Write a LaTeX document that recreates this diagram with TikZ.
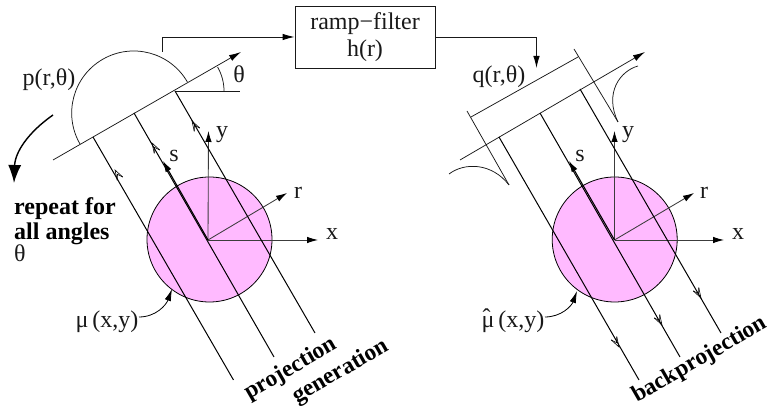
\documentclass[tikz,border=0pt]{standalone}
\usepackage{fontspec}
\setmainfont{Liberation Serif}
\usetikzlibrary{arrows.meta}
\definecolor{disc}{RGB}{255,186,255}
\definecolor{ink}{RGB}{25,25,25}
\tikzset{
  thin line/.style={draw=ink,line width=0.75pt},
  ray/.style={draw=black,line width=1pt},
  axis/.style={draw=ink!85,line width=0.85pt,-{Latex[length=11pt,width=6.5pt,black]}},
  solid axis/.style={draw=black,line width=1.1pt,-{Latex[length=11pt,width=6.5pt]}},
  flow/.style={draw=ink,line width=0.85pt,-{Latex[length=12pt,width=6.5pt,black]}},
  callout/.style={draw=black,line width=0.8pt,-{Latex[length=12pt,width=6.5pt]}},
  openhead/.style={draw=black,line width=0.6pt},
  lab/.style={font=\fontsize{24}{26}\selectfont,inner sep=0pt,text=ink},
  bold lab/.style={font=\fontsize{24}{25}\selectfont\bfseries,inner sep=0pt,text=black},
  rot lab/.style={font=\fontsize{23.5}{25}\selectfont\bfseries,inner sep=0pt,text=black,rotate=30},
  diskshape/.style={circle,draw=black,fill=disc,line width=0.8pt,minimum size=125pt,inner sep=0pt},
  filterbox/.style={draw=ink,line width=0.85pt,minimum width=140pt,minimum height=62pt,inner sep=0pt,align=center,
    font=\fontsize{24}{27}\selectfont,text=ink},
  ray mark/.pic={\draw[openhead] (-3.2,-10) -- (0,0) -- (3.2,-10);\draw[openhead] (-3.2,-10) -- (0,-5) -- (3.2,-10);}
}
\begin{document}
\begin{tikzpicture}[x=1pt,y=1pt]
\useasboundingbox (0,0) rectangle (772,411);
% left group
\node[diskshape] (discL) at (209.5,171.5) {};
\coordinate (oL) at (208,171);
\coordinate (yL) at (208.5,280);
\coordinate (xL) at (318,171);
\coordinate (rL) at (287,218);
\coordinate (sL) at (163,250);
\draw[axis] (oL) -- (yL);
\draw[axis] (oL) -- (xL);
\draw[axis] (oL) -- (rL);
\coordinate (baseLa) at (53,251);
\coordinate (baseLb) at (241,359);
\draw[thin line,-{Latex[length=12pt,width=6.5pt,black]}] (baseLa) -- (baseLb);
\coordinate (horizL) at (240,320);
\coordinate (r3Lb) at (175,320);
\draw[thin line] (r3Lb) -- (horizL);
\draw[thin line] (80,267) arc[start angle=210,end angle=30,radius=62];
\draw[thin line] (224,320) arc[start angle=0,end angle=30,radius=48];
\coordinate (r1La) at (93,274);
\coordinate (r1Lb) at (233.5,31);
\coordinate (r2La) at (134,298);
\coordinate (r2Lb) at (274,54);
\coordinate (r3La) at (175,320);
\coordinate (r3Le) at (315,78);
\draw[ray] (r1La) -- (r1Lb);
\draw[ray] (r2La) -- (r2Lb);
\draw[ray] (r3La) -- (r3Le);
\draw[solid axis] (oL) -- (sL);
\foreach \p in {(115,241),(152,268),(192,290)} \draw \p pic[rotate=30] {ray mark};
\node[lab,anchor=base] (pL) at (49,325) {p(r,θ)};
\node[lab,anchor=base] (tL) at (239,328) {θ};
\node[lab,anchor=base] (yLabL) at (222,273) {y};
\node[lab,anchor=base] (sLabL) at (174,249) {s};
\node[lab,anchor=base] (rLabL) at (298,212) {r};
\node[lab,anchor=base] (xLabL) at (332,171) {x};
\node[bold lab,anchor=base west] (rep1) at (14,196) {repeat for};
\node[bold lab,anchor=base west] (rep2) at (14,171) {all angles};
\node[lab,anchor=base west] (rep3) at (14,149) {θ};
\node[lab,anchor=base] (muL) at (107,83) {μ\,(x,y)};
\coordinate (muLend) at (139,94);
\coordinate (muLtip) at (172,122);
\draw[callout] (muLend) to[out=0,in=250] (muLtip);
\coordinate (sweepA) at (53,296);
\coordinate (sweepB) at (14,228);
\draw[line width=1.4pt,-{Latex[length=18pt,width=13pt]}] (sweepA) to[out=215,in=88] (sweepB);
\node[rot lab] (proj) at (291,42) {projection};
\node[rot lab] (gen) at (341,39) {generation};
% filter
\node[filterbox] (filt) at (365,374) {ramp−filter\\h(r)};
\coordinate (tap) at (162,359);
\draw[flow] (tap) |- (filt.west|-0,374);
\coordinate (drop) at (536.5,343);
\draw[flow] (filt.east|-0,374) -| (drop);
% right group
\node[diskshape] (discR) at (614.7,171.5) {};
\coordinate (oR) at (614.5,171);
\coordinate (yR) at (614.5,280);
\coordinate (xR) at (724,171);
\coordinate (rR) at (694,218);
\coordinate (sR) at (569,250);
\draw[axis] (oR) -- (yR);
\draw[axis] (oR) -- (xR);
\draw[axis] (oR) -- (rR);
\coordinate (baseRa) at (460,251);
\coordinate (baseRb) at (645,359);
\draw[thin line,-{Latex[length=12pt,width=6.5pt,black]}] (baseRa) -- (baseRb);
\coordinate (r1Ra) at (499,274);
\coordinate (r1Rb) at (639,31);
\coordinate (r2Ra) at (540,298);
\coordinate (r2Rb) at (680,54);
\coordinate (r3Ra) at (580,322);
\coordinate (r3Rb) at (721,78);
\draw[ray] (r1Ra) -- (r1Rb);
\draw[ray] (r2Ra) -- (r2Rb);
\draw[ray] (r3Ra) -- (r3Rb);
\draw[solid axis] (oR) -- (sR);
\foreach \p in {(619,64),(662,86),(701,113)} \draw \p pic[rotate=210] {ray mark};
\coordinate (topa) at (471,294);
\coordinate (topb) at (578,354);
\draw[thin line] (topa) -- (topb);
\coordinate (tickAa) at (467,300);
\coordinate (tickAb) at (509,226);
\coordinate (tickBa) at (574,362);
\coordinate (tickBb) at (618,289);
\draw[thin line] (tickAa) -- (tickAb);
\draw[thin line] (tickBa) -- (tickBb);
\coordinate (wingBa) at (638,345);
\coordinate (wingAa) at (449,237);
\draw[thin line] (wingBa) .. controls (620,340) and (604,318) .. (tickBb);
\draw[thin line] (wingAa) .. controls (465,249) and (492,248) .. (tickAb);
\node[lab,anchor=base] (qR) at (499,328) {q(r,θ)};
\node[lab,anchor=base] (yLabR) at (628,273) {y};
\node[lab,anchor=base] (sLabR) at (580,249) {s};
\node[lab,anchor=base] (rLabR) at (704,212) {r};
\node[lab,anchor=base] (xLabR) at (738,171) {x};
\node[lab,anchor=base] (muR) at (513,83) {\rlap{\hspace{1pt}\raisebox{2pt}{ˆ}}μ\,(x,y)};
\coordinate (muRend) at (545,94);
\coordinate (muRtip) at (577,120);
\draw[callout] (muRend) to[out=0,in=250] (muRtip);
\node[rot lab] (back) at (700,51) {backprojection};
\end{tikzpicture}
\end{document}
